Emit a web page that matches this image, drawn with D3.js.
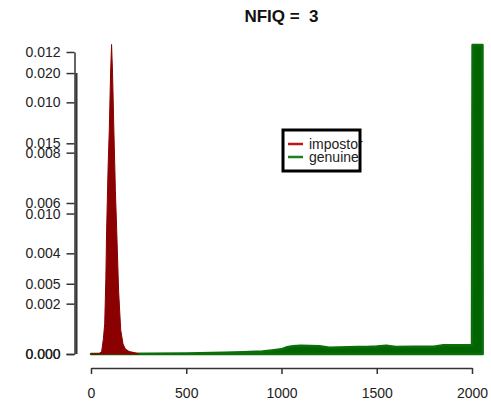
<!DOCTYPE html>
<html>
<head>
<meta charset="utf-8">
<script src="https://cdn.jsdelivr.net/npm/d3@7"></script>
<style>
	body { margin: 0; background: #fff; }
	svg { display: block; font-family: "Liberation Sans", Arial, sans-serif; }
	.axis text { fill: #222; font-size: 14px; }
	.axis line, .axis path { stroke: #333; }
</style>
</head>
<body>
<div id="chart"></div>
<script>
var titleText = "NFIQ =  3";
var legendNames = ["impostor", "genuine"];

// impostor density (score, density)
var impX = [0, 40, 56, 65, 72, 78, 82, 90, 96, 103, 108, 113, 120, 128, 135, 145, 156, 168, 180, 200, 230, 250];
var impY = [0, 0, 0.0001, 0.0006, 0.0012, 0.0030, 0.0049, 0.0075, 0.0089, 0.0112, 0.0123, 0.0112, 0.0089, 0.0065, 0.0049, 0.0025, 0.00095, 0.0004, 0.0002, 0.0001, 0.00005, 0];

// genuine density (score, density)
var genX = [0, 300, 500, 700, 800, 900, 950, 1000, 1030, 1060, 1100, 1200, 1250, 1300, 1400, 1450, 1500, 1550, 1600, 1700, 1800, 1850, 1950, 2000, 2003, 2055, 2056];
var genY = [0, 0.00002, 0.00004, 0.00009, 0.00013, 0.00018, 0.00025, 0.00033, 0.00048, 0.00055, 0.00058, 0.00055, 0.00045, 0.00047, 0.0005, 0.0005, 0.00053, 0.00058, 0.0005, 0.00052, 0.00052, 0.00062, 0.00063, 0.00063, 0.022, 0.022, 0];

var xTicks = [0, 500, 1000, 1500, 2000];
var impTicks = [0, 0.002, 0.004, 0.006, 0.008, 0.010, 0.012];
var genTicks = [0, 0.005, 0.010, 0.015, 0.020];

var width = 491, height = 403;

var svg = d3.select("#chart").append("svg")
	.attr("width", width)
	.attr("height", height);

var x = d3.scaleLinear().domain([0, 2000]).range([91, 472]);
var yImp = d3.scaleLinear().domain([0, 0.012]).range([354, 52]);
var yGen = d3.scaleLinear().domain([0, 0.0215]).range([354, 52]);

var impData = impX.map(function(d, i) { return {x: d, y: impY[i]}; });
var genData = genX.map(function(d, i) { return {x: d, y: genY[i]}; });

var genArea = d3.area()
	.x(function(d) { return x(d.x); })
	.y0(yGen(0))
	.y1(function(d) { return yGen(d.y); });

var impArea = d3.area()
	.x(function(d) { return x(d.x); })
	.y0(yImp(0))
	.y1(function(d) { return yImp(d.y); });

svg.append("path")
	.datum(genData)
	.attr("d", genArea)
	.attr("fill", "#006400")
	.attr("stroke", "#0b6e0b")
	.attr("stroke-width", 2.5)
	.attr("stroke-linejoin", "round");

svg.append("path")
	.datum(impData)
	.attr("d", impArea)
	.attr("fill", "#8b0000")
	.attr("stroke", "#8b0000")
	.attr("stroke-width", 1)
	.attr("stroke-linejoin", "round");

// x axis
var xAxis = svg.append("g")
	.attr("class", "axis")
	.attr("transform", "translate(0,368)")
	.call(d3.axisBottom(x).tickValues(xTicks).tickFormat(d3.format("d"))
		.tickSize(6).tickSizeOuter(0).tickPadding(14));
xAxis.selectAll("path, line").attr("stroke", "#444").attr("stroke-width", 1.5);

// impostor y axis
var impAxis = svg.append("g")
	.attr("class", "axis")
	.attr("transform", "translate(74.5,0)")
	.call(d3.axisLeft(yImp).tickValues(impTicks).tickFormat(d3.format(".3f"))
		.tickSize(8).tickSizeOuter(0).tickPadding(6));
impAxis.select(".domain").attr("stroke", "#999").attr("stroke-width", 1.5);
impAxis.selectAll("line").attr("stroke", "#444").attr("stroke-width", 1.5);

// genuine y axis
var genAxis = svg.append("g")
	.attr("class", "axis")
	.attr("transform", "translate(74.5,0)")
	.call(d3.axisLeft(yGen).tickValues(genTicks).tickFormat(d3.format(".3f"))
		.tickSize(8).tickSizeOuter(0).tickPadding(6));
genAxis.select(".domain").remove();
genAxis.selectAll("line").attr("stroke", "#444").attr("stroke-width", 1.5);
genAxis.append("line")
	.attr("x1", 2).attr("x2", 2)
	.attr("y1", yGen(0.020)).attr("y2", yGen(0))
	.attr("stroke", "#333")
	.attr("stroke-width", 2);

// title
svg.append("text")
	.attr("x", 281.5)
	.attr("y", 21.5)
	.attr("text-anchor", "middle")
	.attr("font-size", "17px")
	.attr("font-weight", "bold")
	.attr("fill", "#111")
	.style("white-space", "pre")
	.text(titleText);

// legend
var legend = svg.append("g").attr("transform", "translate(283,130)");
var legendColors = ["#b81818", "#1f7f1f"];
legendNames.forEach(function(name, i) {
	var ly = 14 + i * 13;
	legend.append("line")
		.attr("x1", 5).attr("x2", 20)
		.attr("y1", ly).attr("y2", ly)
		.attr("stroke", legendColors[i])
		.attr("stroke-width", 2.5);
	legend.append("text")
		.attr("x", 26)
		.attr("y", ly + 4.5)
		.attr("font-size", "14px")
		.attr("fill", "#222")
		.text(name);
});
legend.append("rect")
	.attr("x", 0).attr("y", 0)
	.attr("width", 77).attr("height", 41)
	.attr("fill", "none")
	.attr("stroke", "#000")
	.attr("stroke-width", 3);
</script>
</body>
</html>
